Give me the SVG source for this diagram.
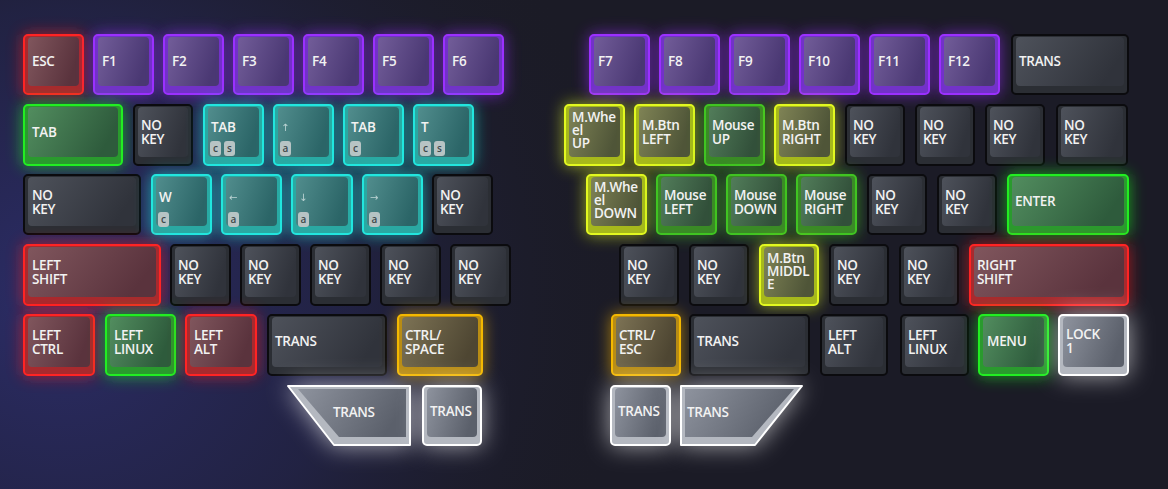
<svg xmlns="http://www.w3.org/2000/svg" width="1168" height="489" viewBox="0 0 1168 489">
<defs>
<radialGradient id="bgL" cx="60" cy="300" r="580" gradientUnits="userSpaceOnUse">
<stop offset="0" stop-color="#2c2d68"/><stop offset="0.5" stop-color="#252652" stop-opacity="0.65"/><stop offset="1" stop-color="#1b1b26" stop-opacity="0"/>
</radialGradient>
<linearGradient id="gRed" x1="0" y1="0" x2="1" y2="0.3"><stop offset="0" stop-color="#80565d"/><stop offset="1" stop-color="#5a333d"/></linearGradient>
<linearGradient id="gPur" x1="0" y1="0" x2="1" y2="0.3"><stop offset="0" stop-color="#725d99"/><stop offset="1" stop-color="#4a3873"/></linearGradient>
<linearGradient id="gGrn" x1="0" y1="0" x2="1" y2="0.3"><stop offset="0" stop-color="#528d5f"/><stop offset="1" stop-color="#2e5b3c"/></linearGradient>
<linearGradient id="gCyn" x1="0" y1="0" x2="1" y2="0.3"><stop offset="0" stop-color="#518d8d"/><stop offset="1" stop-color="#2b6567"/></linearGradient>
<linearGradient id="gYel" x1="0" y1="0" x2="1" y2="0.3"><stop offset="0" stop-color="#7f8355"/><stop offset="1" stop-color="#4f5538"/></linearGradient>
<linearGradient id="gMgr" x1="0" y1="0" x2="1" y2="0.3"><stop offset="0" stop-color="#527d5a"/><stop offset="1" stop-color="#32503a"/></linearGradient>
<linearGradient id="gGld" x1="0" y1="0" x2="1" y2="0.3"><stop offset="0" stop-color="#7d7355"/><stop offset="1" stop-color="#4e4632"/></linearGradient>
<linearGradient id="gGry" x1="0" y1="0" x2="1" y2="0.3"><stop offset="0" stop-color="#4e525b"/><stop offset="1" stop-color="#30333b"/></linearGradient>
<linearGradient id="gWht" x1="0" y1="0" x2="1" y2="0.3"><stop offset="0" stop-color="#8e939e"/><stop offset="1" stop-color="#5b606b"/></linearGradient>
<filter id="glow" x="-60%" y="-60%" width="220%" height="220%"><feGaussianBlur stdDeviation="8"/></filter>
<filter id="glowW" x="-80%" y="-80%" width="260%" height="260%"><feGaussianBlur stdDeviation="12"/></filter>
</defs>
<style>
.glow{filter:url(#glow);opacity:0.6}
.white .glow{filter:url(#glowW);opacity:0.6}
.body{stroke-width:2;stroke-linejoin:round}
.top{stroke:none}
.red .glow{fill:#ff1a1a}.red .body{fill:#a82a2e;stroke:#ff2424}.red .top{fill:url(#gRed)}
.pur .glow{fill:#9a2cff}.pur .body{fill:#7232c8;stroke:#9b30ff}.pur .top{fill:url(#gPur)}
.grn .glow{fill:#1aff1a}.grn .body{fill:#2a9a2e;stroke:#22ee22}.grn .top{fill:url(#gGrn)}
.cyn .glow{fill:#1af0e6}.cyn .body{fill:#2aa8a2;stroke:#22e6de}.cyn .top{fill:url(#gCyn)}
.yel .glow{fill:#e6ff1a}.yel .body{fill:#a6b81c;stroke:#e2f820}.yel .top{fill:url(#gYel)}
.mgr .glow{fill:#44cc22}.mgr .body{fill:#3a8a26;stroke:#40c422}.mgr .top{fill:url(#gMgr)}
.gld .glow{fill:#ffbb00}.gld .body{fill:#b88c14;stroke:#f4b800}.gld .top{fill:url(#gGld)}
.gry .body{fill:#2b2e34;stroke:#0b0b0e}.gry .top{fill:url(#gGry)}
.white .glow{fill:#ffffff}.white .body{fill:#b4b8c0;stroke:#ffffff}.white .top{fill:url(#gWht)}
.lbl{font-family:"Open Sans","Noto Sans","Liberation Sans",sans-serif;font-size:13.5px;font-weight:600;fill:#f2f2f2;letter-spacing:-0.3px}
.arr{font-family:"DejaVu Sans","Noto Sans",sans-serif;font-size:10px;fill:#d0e2e2;opacity:0.85}
.mod rect{fill:#b7c4c4}
.mod text{font-family:"Open Sans","Noto Sans",sans-serif;font-size:10px;font-weight:600;fill:#3e4a4c;text-anchor:middle}
</style>
<rect width="1168" height="489" fill="#1b1b26"/>
<rect width="1168" height="489" fill="url(#bgL)"/>

<!-- Row 1 -->
<g id="k-esc" class="red"><rect class="glow" x="23" y="34" width="61" height="61" rx="5"/><rect class="body" x="24" y="35" width="59" height="59" rx="4"/><rect class="top" x="28" y="37" width="51" height="49" rx="4"/><text class="lbl" x="32" y="66">ESC</text></g>
<g id="k-f1" class="pur"><rect class="glow" x="93" y="34" width="61" height="61" rx="5"/><rect class="body" x="94" y="35" width="59" height="59" rx="4"/><rect class="top" x="98" y="37" width="51" height="49" rx="4"/><text class="lbl" x="102" y="66">F1</text></g>
<g id="k-f2" class="pur"><rect class="glow" x="163" y="34" width="61" height="61" rx="5"/><rect class="body" x="164" y="35" width="59" height="59" rx="4"/><rect class="top" x="168" y="37" width="51" height="49" rx="4"/><text class="lbl" x="172" y="66">F2</text></g>
<g id="k-f3" class="pur"><rect class="glow" x="233" y="34" width="61" height="61" rx="5"/><rect class="body" x="234" y="35" width="59" height="59" rx="4"/><rect class="top" x="238" y="37" width="51" height="49" rx="4"/><text class="lbl" x="242" y="66">F3</text></g>
<g id="k-f4" class="pur"><rect class="glow" x="303" y="34" width="61" height="61" rx="5"/><rect class="body" x="304" y="35" width="59" height="59" rx="4"/><rect class="top" x="308" y="37" width="51" height="49" rx="4"/><text class="lbl" x="312" y="66">F4</text></g>
<g id="k-f5" class="pur"><rect class="glow" x="373" y="34" width="61" height="61" rx="5"/><rect class="body" x="374" y="35" width="59" height="59" rx="4"/><rect class="top" x="378" y="37" width="51" height="49" rx="4"/><text class="lbl" x="382" y="66">F5</text></g>
<g id="k-f6" class="pur"><rect class="glow" x="443" y="34" width="61" height="61" rx="5"/><rect class="body" x="444" y="35" width="59" height="59" rx="4"/><rect class="top" x="448" y="37" width="51" height="49" rx="4"/><text class="lbl" x="452" y="66">F6</text></g>
<g id="k-f7" class="pur"><rect class="glow" x="589" y="34" width="61" height="61" rx="5"/><rect class="body" x="590" y="35" width="59" height="59" rx="4"/><rect class="top" x="594" y="37" width="51" height="49" rx="4"/><text class="lbl" x="598" y="66">F7</text></g>
<g id="k-f8" class="pur"><rect class="glow" x="659" y="34" width="61" height="61" rx="5"/><rect class="body" x="660" y="35" width="59" height="59" rx="4"/><rect class="top" x="664" y="37" width="51" height="49" rx="4"/><text class="lbl" x="668" y="66">F8</text></g>
<g id="k-f9" class="pur"><rect class="glow" x="729" y="34" width="61" height="61" rx="5"/><rect class="body" x="730" y="35" width="59" height="59" rx="4"/><rect class="top" x="734" y="37" width="51" height="49" rx="4"/><text class="lbl" x="738" y="66">F9</text></g>
<g id="k-f10" class="pur"><rect class="glow" x="799" y="34" width="61" height="61" rx="5"/><rect class="body" x="800" y="35" width="59" height="59" rx="4"/><rect class="top" x="804" y="37" width="51" height="49" rx="4"/><text class="lbl" x="808" y="66">F10</text></g>
<g id="k-f11" class="pur"><rect class="glow" x="869" y="34" width="61" height="61" rx="5"/><rect class="body" x="870" y="35" width="59" height="59" rx="4"/><rect class="top" x="874" y="37" width="51" height="49" rx="4"/><text class="lbl" x="878" y="66">F11</text></g>
<g id="k-f12" class="pur"><rect class="glow" x="939" y="34" width="61" height="61" rx="5"/><rect class="body" x="940" y="35" width="59" height="59" rx="4"/><rect class="top" x="944" y="37" width="51" height="49" rx="4"/><text class="lbl" x="948" y="66">F12</text></g>
<g id="k-trans-r1" class="gry"><rect class="body" x="1012" y="35" width="116" height="59" rx="4"/><rect class="top" x="1016" y="37" width="108" height="49" rx="4"/><text class="lbl" x="1019" y="66">TRANS</text></g>

<!-- Row 2 -->
<g id="k-tab" class="grn"><rect class="glow" x="23" y="104" width="100" height="62" rx="5"/><rect class="body" x="24" y="105" width="98" height="60" rx="4"/><rect class="top" x="28" y="107" width="90" height="50" rx="4"/><text class="lbl" x="32" y="137">TAB</text></g>
<g id="k-nokey-l2a" class="gry"><rect class="body" x="134" y="105" width="58" height="60" rx="4"/><rect class="top" x="138" y="107" width="50" height="50" rx="4"/><text class="lbl" y="130"><tspan x="141">NO</tspan><tspan x="141" dy="14">KEY</tspan></text></g>
<g id="k-tab-cs" class="cyn"><rect class="glow" x="203" y="104" width="61" height="62" rx="5"/><rect class="body" x="204" y="105" width="59" height="60" rx="4"/><rect class="top" x="208" y="107" width="51" height="50" rx="4"/><text class="lbl" x="211" y="132">TAB</text><g class="mod"><rect x="210" y="141" width="11" height="15" rx="3"/><text x="215.5" y="152">c</text><rect x="224" y="141" width="11" height="15" rx="3"/><text x="229.5" y="152">s</text></g></g>
<g id="k-up-a" class="cyn"><rect class="glow" x="273" y="104" width="61" height="62" rx="5"/><rect class="body" x="274" y="105" width="59" height="60" rx="4"/><rect class="top" x="278" y="107" width="51" height="50" rx="4"/><text class="arr" x="281" y="131">↑</text><g class="mod"><rect x="280" y="141" width="11" height="15" rx="3"/><text x="285.5" y="152">a</text></g></g>
<g id="k-tab-c" class="cyn"><rect class="glow" x="343" y="104" width="61" height="62" rx="5"/><rect class="body" x="344" y="105" width="59" height="60" rx="4"/><rect class="top" x="348" y="107" width="51" height="50" rx="4"/><text class="lbl" x="351" y="132">TAB</text><g class="mod"><rect x="350" y="141" width="11" height="15" rx="3"/><text x="355.5" y="152">c</text></g></g>
<g id="k-t-cs" class="cyn"><rect class="glow" x="413" y="104" width="61" height="62" rx="5"/><rect class="body" x="414" y="105" width="59" height="60" rx="4"/><rect class="top" x="418" y="107" width="51" height="50" rx="4"/><text class="lbl" x="421" y="132">T</text><g class="mod"><rect x="420" y="141" width="11" height="15" rx="3"/><text x="425.5" y="152">c</text><rect x="434" y="141" width="11" height="15" rx="3"/><text x="439.5" y="152">s</text></g></g>
<g id="k-mwheel-up" class="yel"><rect class="glow" x="564" y="104" width="61" height="62" rx="5"/><rect class="body" x="565" y="105" width="59" height="60" rx="4"/><rect class="top" x="569" y="107" width="51" height="50" rx="4"/><text class="lbl" y="122"><tspan x="572">M.Whe</tspan><tspan x="572" dy="13">el</tspan><tspan x="572" dy="13">UP</tspan></text></g>
<g id="k-mbtn-left" class="yel"><rect class="glow" x="634" y="104" width="61" height="62" rx="5"/><rect class="body" x="635" y="105" width="59" height="60" rx="4"/><rect class="top" x="639" y="107" width="51" height="50" rx="4"/><text class="lbl" y="130"><tspan x="642">M.Btn</tspan><tspan x="642" dy="14">LEFT</tspan></text></g>
<g id="k-mouse-up" class="mgr"><rect class="glow" x="704" y="104" width="61" height="62" rx="5"/><rect class="body" x="705" y="105" width="59" height="60" rx="4"/><rect class="top" x="709" y="107" width="51" height="50" rx="4"/><text class="lbl" y="130"><tspan x="712">Mouse</tspan><tspan x="712" dy="14">UP</tspan></text></g>
<g id="k-mbtn-right" class="yel"><rect class="glow" x="774" y="104" width="61" height="62" rx="5"/><rect class="body" x="775" y="105" width="59" height="60" rx="4"/><rect class="top" x="779" y="107" width="51" height="50" rx="4"/><text class="lbl" y="130"><tspan x="782">M.Btn</tspan><tspan x="782" dy="14">RIGHT</tspan></text></g>
<g id="k-nokey-r2a" class="gry"><rect class="body" x="846" y="105" width="58" height="60" rx="4"/><rect class="top" x="850" y="107" width="50" height="50" rx="4"/><text class="lbl" y="130"><tspan x="853">NO</tspan><tspan x="853" dy="14">KEY</tspan></text></g>
<g id="k-nokey-r2b" class="gry"><rect class="body" x="916" y="105" width="58" height="60" rx="4"/><rect class="top" x="920" y="107" width="50" height="50" rx="4"/><text class="lbl" y="130"><tspan x="923">NO</tspan><tspan x="923" dy="14">KEY</tspan></text></g>
<g id="k-nokey-r2c" class="gry"><rect class="body" x="986" y="105" width="58" height="60" rx="4"/><rect class="top" x="990" y="107" width="50" height="50" rx="4"/><text class="lbl" y="130"><tspan x="993">NO</tspan><tspan x="993" dy="14">KEY</tspan></text></g>
<g id="k-nokey-r2d" class="gry"><rect class="body" x="1057" y="105" width="70" height="60" rx="4"/><rect class="top" x="1061" y="107" width="62" height="50" rx="4"/><text class="lbl" y="130"><tspan x="1064">NO</tspan><tspan x="1064" dy="14">KEY</tspan></text></g>

<!-- Row 3 -->
<g id="k-nokey-l3a" class="gry"><rect class="body" x="24" y="175" width="116" height="59" rx="4"/><rect class="top" x="28" y="177" width="108" height="49" rx="4"/><text class="lbl" y="200"><tspan x="32">NO</tspan><tspan x="32" dy="14">KEY</tspan></text></g>
<g id="k-w-c" class="cyn"><rect class="glow" x="151" y="174" width="61" height="61" rx="5"/><rect class="body" x="152" y="175" width="59" height="59" rx="4"/><rect class="top" x="156" y="177" width="51" height="49" rx="4"/><text class="lbl" x="159" y="202">W</text><g class="mod"><rect x="158" y="212" width="11" height="15" rx="3"/><text x="163.5" y="223">c</text></g></g>
<g id="k-left-a" class="cyn"><rect class="glow" x="221" y="174" width="61" height="61" rx="5"/><rect class="body" x="222" y="175" width="59" height="59" rx="4"/><rect class="top" x="226" y="177" width="51" height="49" rx="4"/><text class="arr" x="229" y="201">←</text><g class="mod"><rect x="228" y="212" width="11" height="15" rx="3"/><text x="233.5" y="223">a</text></g></g>
<g id="k-down-a" class="cyn"><rect class="glow" x="291" y="174" width="62" height="61" rx="5"/><rect class="body" x="292" y="175" width="60" height="59" rx="4"/><rect class="top" x="296" y="177" width="52" height="49" rx="4"/><text class="arr" x="299" y="201">↓</text><g class="mod"><rect x="298" y="212" width="11" height="15" rx="3"/><text x="303.5" y="223">a</text></g></g>
<g id="k-right-a" class="cyn"><rect class="glow" x="362" y="174" width="61" height="61" rx="5"/><rect class="body" x="363" y="175" width="59" height="59" rx="4"/><rect class="top" x="367" y="177" width="51" height="49" rx="4"/><text class="arr" x="370" y="201">→</text><g class="mod"><rect x="369" y="212" width="11" height="15" rx="3"/><text x="374.5" y="223">a</text></g></g>
<g id="k-nokey-l3b" class="gry"><rect class="body" x="433" y="175" width="59" height="59" rx="4"/><rect class="top" x="437" y="177" width="51" height="49" rx="4"/><text class="lbl" y="200"><tspan x="440">NO</tspan><tspan x="440" dy="14">KEY</tspan></text></g>
<g id="k-mwheel-down" class="yel"><rect class="glow" x="586" y="174" width="61" height="61" rx="5"/><rect class="body" x="587" y="175" width="59" height="59" rx="4"/><rect class="top" x="591" y="177" width="51" height="49" rx="4"/><text class="lbl" y="192"><tspan x="594">M.Whe</tspan><tspan x="594" dy="13">el</tspan><tspan x="594" dy="13">DOWN</tspan></text></g>
<g id="k-mouse-left" class="mgr"><rect class="glow" x="656" y="174" width="61" height="61" rx="5"/><rect class="body" x="657" y="175" width="59" height="59" rx="4"/><rect class="top" x="661" y="177" width="51" height="49" rx="4"/><text class="lbl" y="200"><tspan x="664">Mouse</tspan><tspan x="664" dy="14">LEFT</tspan></text></g>
<g id="k-mouse-down" class="mgr"><rect class="glow" x="726" y="174" width="61" height="61" rx="5"/><rect class="body" x="727" y="175" width="59" height="59" rx="4"/><rect class="top" x="731" y="177" width="51" height="49" rx="4"/><text class="lbl" y="200"><tspan x="734">Mouse</tspan><tspan x="734" dy="14">DOWN</tspan></text></g>
<g id="k-mouse-right" class="mgr"><rect class="glow" x="796" y="174" width="61" height="61" rx="5"/><rect class="body" x="797" y="175" width="59" height="59" rx="4"/><rect class="top" x="801" y="177" width="51" height="49" rx="4"/><text class="lbl" y="200"><tspan x="804">Mouse</tspan><tspan x="804" dy="14">RIGHT</tspan></text></g>
<g id="k-nokey-r3a" class="gry"><rect class="body" x="868" y="175" width="58" height="59" rx="4"/><rect class="top" x="872" y="177" width="50" height="49" rx="4"/><text class="lbl" y="200"><tspan x="875">NO</tspan><tspan x="875" dy="14">KEY</tspan></text></g>
<g id="k-nokey-r3b" class="gry"><rect class="body" x="938" y="175" width="58" height="59" rx="4"/><rect class="top" x="942" y="177" width="50" height="49" rx="4"/><text class="lbl" y="200"><tspan x="945">NO</tspan><tspan x="945" dy="14">KEY</tspan></text></g>
<g id="k-enter" class="grn"><rect class="glow" x="1007" y="174" width="122" height="61" rx="5"/><rect class="body" x="1008" y="175" width="120" height="59" rx="4"/><rect class="top" x="1012" y="177" width="112" height="49" rx="4"/><text class="lbl" x="1015" y="206">ENTER</text></g>

<!-- Row 4 -->
<g id="k-lshift" class="red"><rect class="glow" x="23" y="244" width="138" height="62" rx="5"/><rect class="body" x="24" y="245" width="136" height="60" rx="4"/><rect class="top" x="28" y="247" width="128" height="50" rx="4"/><text class="lbl" y="270"><tspan x="32">LEFT</tspan><tspan x="32" dy="14">SHIFT</tspan></text></g>
<g id="k-nokey-l4a" class="gry"><rect class="body" x="171" y="245" width="59" height="60" rx="4"/><rect class="top" x="175" y="247" width="51" height="50" rx="4"/><text class="lbl" y="270"><tspan x="178">NO</tspan><tspan x="178" dy="14">KEY</tspan></text></g>
<g id="k-nokey-l4b" class="gry"><rect class="body" x="241" y="245" width="59" height="60" rx="4"/><rect class="top" x="245" y="247" width="51" height="50" rx="4"/><text class="lbl" y="270"><tspan x="248">NO</tspan><tspan x="248" dy="14">KEY</tspan></text></g>
<g id="k-nokey-l4c" class="gry"><rect class="body" x="311" y="245" width="59" height="60" rx="4"/><rect class="top" x="315" y="247" width="51" height="50" rx="4"/><text class="lbl" y="270"><tspan x="318">NO</tspan><tspan x="318" dy="14">KEY</tspan></text></g>
<g id="k-nokey-l4d" class="gry"><rect class="body" x="381" y="245" width="59" height="60" rx="4"/><rect class="top" x="385" y="247" width="51" height="50" rx="4"/><text class="lbl" y="270"><tspan x="388">NO</tspan><tspan x="388" dy="14">KEY</tspan></text></g>
<g id="k-nokey-l4e" class="gry"><rect class="body" x="451" y="245" width="59" height="60" rx="4"/><rect class="top" x="455" y="247" width="51" height="50" rx="4"/><text class="lbl" y="270"><tspan x="458">NO</tspan><tspan x="458" dy="14">KEY</tspan></text></g>
<g id="k-nokey-r4a" class="gry"><rect class="body" x="620" y="245" width="58" height="60" rx="4"/><rect class="top" x="624" y="247" width="50" height="50" rx="4"/><text class="lbl" y="270"><tspan x="627">NO</tspan><tspan x="627" dy="14">KEY</tspan></text></g>
<g id="k-nokey-r4b" class="gry"><rect class="body" x="690" y="245" width="58" height="60" rx="4"/><rect class="top" x="694" y="247" width="50" height="50" rx="4"/><text class="lbl" y="270"><tspan x="697">NO</tspan><tspan x="697" dy="14">KEY</tspan></text></g>
<g id="k-mbtn-middle" class="yel"><rect class="glow" x="759" y="244" width="60" height="62" rx="5"/><rect class="body" x="760" y="245" width="58" height="60" rx="4"/><rect class="top" x="764" y="247" width="50" height="50" rx="4"/><text class="lbl" y="263"><tspan x="767">M.Btn</tspan><tspan x="767" dy="13">MIDDL</tspan><tspan x="767" dy="13">E</tspan></text></g>
<g id="k-nokey-r4c" class="gry"><rect class="body" x="830" y="245" width="58" height="60" rx="4"/><rect class="top" x="834" y="247" width="50" height="50" rx="4"/><text class="lbl" y="270"><tspan x="837">NO</tspan><tspan x="837" dy="14">KEY</tspan></text></g>
<g id="k-nokey-r4d" class="gry"><rect class="body" x="900" y="245" width="58" height="60" rx="4"/><rect class="top" x="904" y="247" width="50" height="50" rx="4"/><text class="lbl" y="270"><tspan x="907">NO</tspan><tspan x="907" dy="14">KEY</tspan></text></g>
<g id="k-rshift" class="red"><rect class="glow" x="969" y="244" width="160" height="62" rx="5"/><rect class="body" x="970" y="245" width="158" height="60" rx="4"/><rect class="top" x="974" y="247" width="150" height="50" rx="4"/><text class="lbl" y="270"><tspan x="977">RIGHT</tspan><tspan x="977" dy="14">SHIFT</tspan></text></g>

<!-- Row 5 -->
<g id="k-lctrl" class="red"><rect class="glow" x="23" y="314" width="72" height="62" rx="5"/><rect class="body" x="24" y="315" width="70" height="60" rx="4"/><rect class="top" x="28" y="317" width="62" height="50" rx="4"/><text class="lbl" y="340"><tspan x="32">LEFT</tspan><tspan x="32" dy="14">CTRL</tspan></text></g>
<g id="k-llinux" class="grn"><rect class="glow" x="105" y="314" width="71" height="62" rx="5"/><rect class="body" x="106" y="315" width="69" height="60" rx="4"/><rect class="top" x="110" y="317" width="61" height="50" rx="4"/><text class="lbl" y="340"><tspan x="114">LEFT</tspan><tspan x="114" dy="14">LINUX</tspan></text></g>
<g id="k-lalt" class="red"><rect class="glow" x="185" y="314" width="72" height="62" rx="5"/><rect class="body" x="186" y="315" width="70" height="60" rx="4"/><rect class="top" x="190" y="317" width="62" height="50" rx="4"/><text class="lbl" y="340"><tspan x="194">LEFT</tspan><tspan x="194" dy="14">ALT</tspan></text></g>
<g id="k-trans-l5" class="gry"><rect class="body" x="268" y="315" width="118" height="60" rx="4"/><rect class="top" x="272" y="317" width="110" height="50" rx="4"/><text class="lbl" x="275" y="346">TRANS</text></g>
<g id="k-ctrl-space" class="gld"><rect class="glow" x="397" y="314" width="86" height="62" rx="5"/><rect class="body" x="398" y="315" width="84" height="60" rx="4"/><rect class="top" x="402" y="317" width="76" height="50" rx="4"/><text class="lbl" y="340"><tspan x="405">CTRL/</tspan><tspan x="405" dy="14">SPACE</tspan></text></g>
<g id="k-ctrl-esc" class="gld"><rect class="glow" x="611" y="314" width="70" height="62" rx="5"/><rect class="body" x="612" y="315" width="68" height="60" rx="4"/><rect class="top" x="616" y="317" width="60" height="50" rx="4"/><text class="lbl" y="340"><tspan x="619">CTRL/</tspan><tspan x="619" dy="14">ESC</tspan></text></g>
<g id="k-trans-r5" class="gry"><rect class="body" x="690" y="315" width="119" height="60" rx="4"/><rect class="top" x="694" y="317" width="111" height="50" rx="4"/><text class="lbl" x="697" y="346">TRANS</text></g>
<g id="k-lalt-r" class="gry"><rect class="body" x="821" y="315" width="66" height="60" rx="4"/><rect class="top" x="825" y="317" width="58" height="50" rx="4"/><text class="lbl" y="340"><tspan x="828">LEFT</tspan><tspan x="828" dy="14">ALT</tspan></text></g>
<g id="k-llinux-r" class="gry"><rect class="body" x="901" y="315" width="67" height="60" rx="4"/><rect class="top" x="905" y="317" width="59" height="50" rx="4"/><text class="lbl" y="340"><tspan x="908">LEFT</tspan><tspan x="908" dy="14">LINUX</tspan></text></g>
<g id="k-menu" class="grn"><rect class="glow" x="978" y="314" width="71" height="62" rx="5"/><rect class="body" x="979" y="315" width="69" height="60" rx="4"/><rect class="top" x="983" y="317" width="61" height="50" rx="4"/><text class="lbl" x="987" y="346">MENU</text></g>
<g id="k-lock1" class="white"><rect class="glow" x="1058" y="314" width="71" height="62" rx="5"/><rect class="body" x="1059" y="315" width="69" height="60" rx="4"/><rect class="top" x="1063" y="317" width="61" height="50" rx="4"/><text class="lbl" y="339"><tspan x="1066">LOCK</tspan><tspan x="1066" dy="14">1</tspan></text></g>

<!-- Row 6 thumbs -->
<g id="k-thumb-l1" class="white"><polygon class="glow" points="286,385 411,385 411,446 333,446"/><polygon class="body" points="288,386 410,386 410,445 334,445"/><polygon class="top" points="298,389 406,389 406,437 339,437"/><text class="lbl" x="333" y="417">TRANS</text></g>
<g id="k-thumb-l2" class="white"><rect class="glow" x="422" y="385" width="60" height="61" rx="5"/><rect class="body" x="423" y="386" width="58" height="59" rx="4"/><rect class="top" x="427" y="388" width="50" height="49" rx="4"/><text class="lbl" x="430" y="416">TRANS</text></g>
<g id="k-thumb-r1" class="white"><rect class="glow" x="610" y="385" width="61" height="61" rx="5"/><rect class="body" x="611" y="386" width="59" height="59" rx="4"/><rect class="top" x="615" y="388" width="51" height="49" rx="4"/><text class="lbl" x="618" y="416">TRANS</text></g>
<g id="k-thumb-r2" class="white"><polygon class="glow" points="680,385 804,385 756,446 680,446"/><polygon class="body" points="681,386 802,386 755,445 681,445"/><polygon class="top" points="685,389 794,389 752,437 685,437"/><text class="lbl" x="687" y="417">TRANS</text></g>
</svg>
